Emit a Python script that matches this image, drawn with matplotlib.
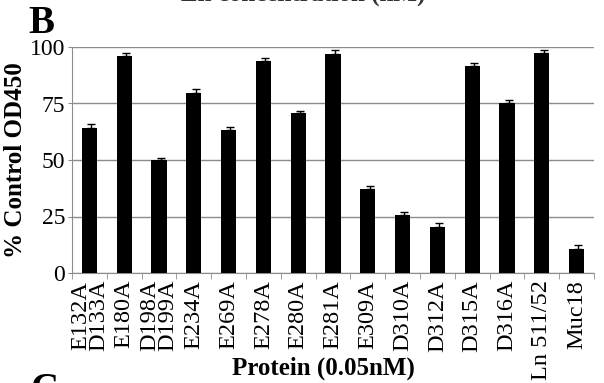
import matplotlib.pyplot as plt
import numpy as np

# --- data ---
proteins = ["E132A\nD133A", "E180A", "D198A\nD199A", "E234A", "E269A", "E278A",
            "E280A", "E281A", "E309A", "D310A", "D312A", "D315A", "D316A",
            "Ln 511/52", "Muc18"]
pct_control = [64.3, 96.0, 50.0, 79.8, 63.3, 93.8, 70.7, 96.8, 37.0, 25.5,
               20.5, 91.6, 75.4, 97.2, 10.8]
pct_err = [1.5, 1.5, 1.0, 1.8, 1.2, 1.2, 1.2, 1.8, 1.3, 1.6, 1.5, 1.2, 1.2,
           1.4, 1.6]
yticks = [0, 25, 50, 75, 100]

plt.rcParams['font.family'] = ['Liberation Serif', 'DejaVu Serif']
grid_grey = "#8c8c8c"

fig = plt.figure(figsize=(6.04, 3.83), dpi=100)
ax = fig.add_axes([72 / 604, 1 - 273 / 383, 522 / 604, 226 / 383])

x = np.arange(len(proteins))
ax.bar(x, pct_control, width=0.44, color="black", zorder=3)
ax.errorbar(x + 0.05, pct_control, yerr=[np.zeros(len(x)), pct_err], fmt="none",
            ecolor="black", elinewidth=1, capsize=3, capthick=1, zorder=4)

ax.set_xlim(-0.5, len(proteins) - 0.5)
ax.set_ylim(0, 100)
ax.set_yticks(yticks)
ax.set_yticklabels([str(v) for v in yticks], fontsize=17)
ax.yaxis.grid(True, color=grid_grey, linewidth=1)
ax.set_axisbelow(True)

# category labels at bar centres, tick marks between bars
ax.set_xticks(x)
ax.set_xticklabels(proteins, rotation=90, fontsize=17.5, linespacing=0.8,
                   va="top", ha="center")
ax.tick_params(axis="x", length=0, pad=5)
ax.set_xticks(np.arange(-0.5, len(proteins)), minor=True)
ax.tick_params(axis="x", which="minor", length=4, color=grid_grey)
ax.tick_params(axis="y", length=3, color=grid_grey, pad=2)

for side in ["top", "right"]:
    ax.spines[side].set_visible(False)
for side in ["left", "bottom"]:
    ax.spines[side].set_color(grid_grey)

ax.set_ylabel("% Control OD450", fontsize=18, fontweight="bold", labelpad=2)
fig.text(0.535, 1 - 368 / 383, "Protein (0.05nM)", fontsize=18,
         fontweight="bold", ha="center", va="center")

# panel letters / clipped neighbouring text
fig.text(28 / 604, 1 - 33 / 383, "B", fontsize=28, fontweight="bold",
         va="baseline")
fig.text(30 / 604, 1 - 372 / 383, "C", fontsize=28, fontweight="bold",
         va="top")
fig.text(303 / 604, 1 - 0.5 / 383, "Ln concentration (nM)", fontsize=18,
         fontweight="bold", ha="center", va="baseline", color="#333333")

fig.savefig("out.png", dpi=100)
